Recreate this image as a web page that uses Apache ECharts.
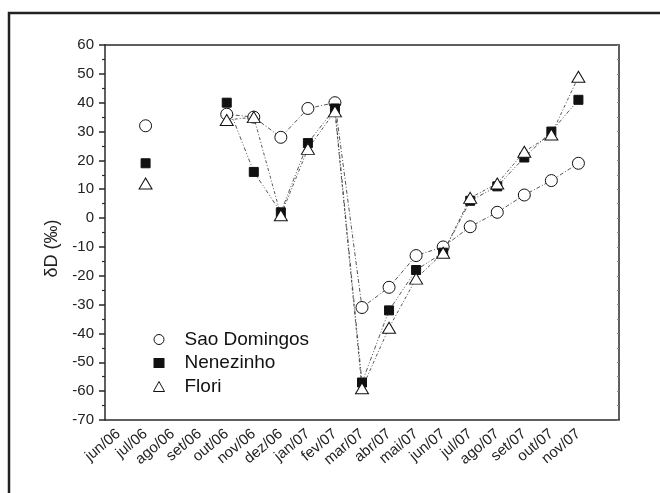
<!DOCTYPE html>
<html>
<head>
<meta charset="utf-8">
<script src="https://cdn.jsdelivr.net/npm/echarts@6/dist/echarts.min.js"></script>
<style>html,body{margin:0;padding:0;background:#fff}#c{width:660px;height:493px}</style>
</head>
<body>
<div id="c"></div>
<script>
const months = ['jun/06','jul/06','ago/06','set/06','out/06','nov/06','dez/06','jan/07','fev/07','mar/07','abr/07','mai/07','jun/07','jul/07','ago/07','set/07','out/07','nov/07',''];
const saoDomingos = [null,32,null,null,36,35,28,38,40,-31,-24,-13,-10,-3,2,8,13,19];
const nenezinho   = [null,19,null,null,40,16,2,26,38,-57,-32,-18,-12,6,11,21,30,41];
const flori       = [null,12,null,null,34,35,1,24,37,-59,-38,-21,-12,7,12,23,29,49];
const yTicks = {min:-70, max:60, step:10};

const chart = echarts.init(document.getElementById('c'), null, {renderer:'canvas'});
const font = '"Liberation Sans", Arial, sans-serif';
const axisCol = '#2a2a2a';
const lineCol = '#444';

function mkSeries(name, data, symbol, size, fill, dash){
  return {
    name, type:'line', data, symbol, symbolSize:size, connectNulls:false,
    showAllSymbol:true, z: 3,
    lineStyle:{color:lineCol, width:0.9, type:dash},
    itemStyle:{color:fill, borderColor:'#111', borderWidth:1},
    emphasis:{disabled:true}, animation:false
  };
}

chart.setOption({
  animation:false,
  backgroundColor:'#fff',
  graphic:[{type:'rect', shape:{x:9,y:13,width:720,height:600}, style:{fill:'none', stroke:'#222', lineWidth:2.5}, silent:true}],
  grid:{left:105, top:45, right:41, bottom:73},
  legend:{
    orient:'vertical', left:148, top:325, itemWidth:11, itemHeight:10, itemGap:4.5,
    textStyle:{fontFamily:font, fontSize:19, color:'#111', padding:[0,0,0,15]},
    data:[
      {name:'Sao Domingos', icon:'circle', itemStyle:{color:'#fff', borderColor:'#111', borderWidth:1}},
      {name:'Nenezinho', icon:'rect', itemStyle:{color:'#111', borderColor:'#111', borderWidth:0}},
      {name:'Flori', icon:'triangle', itemStyle:{color:'#fff', borderColor:'#111', borderWidth:1}}
    ],
    selectedMode:false
  },
  xAxis:[
    {type:'category', data:months, boundaryGap:true, position:'bottom',
     axisLine:{onZero:false, lineStyle:{color:axisCol, width:1.5}},
     axisTick:{alignWithLabel:true, length:6, lineStyle:{color:axisCol, width:1.5}},
     axisLabel:{rotate:40, interval:0, fontFamily:font, fontSize:15, color:'#222', margin:12},
     splitLine:{show:false}},
    {type:'category', data:months, boundaryGap:true, position:'bottom',
     axisLine:{show:false, onZero:false},
     axisTick:{alignWithLabel:false, interval:0, length:3, lineStyle:{color:axisCol, width:1.2}},
     axisLabel:{show:false}, splitLine:{show:false}},
    {type:'category', data:months, boundaryGap:true, position:'top',
     axisLine:{onZero:false, lineStyle:{color:axisCol, width:1.5}},
     axisTick:{alignWithLabel:true, inside:true, length:2, lineStyle:{color:'#888', width:1}},
     axisLabel:{show:false}, splitLine:{show:false}},
    {type:'category', data:months, boundaryGap:true, position:'top',
     axisLine:{show:false, onZero:false},
     axisTick:{alignWithLabel:false, interval:0, inside:true, length:2, lineStyle:{color:'#888', width:1}},
     axisLabel:{show:false}, splitLine:{show:false}}
  ],
  yAxis:[
    {type:'value', min:yTicks.min, max:yTicks.max, interval:yTicks.step, position:'left',
     name:'δD (‰)', nameLocation:'middle', nameGap:40,
     nameTextStyle:{fontFamily:font, fontSize:18, color:'#222', padding:[0,32,0,0]},
     axisLine:{show:true, onZero:false, lineStyle:{color:axisCol, width:1.5}},
     axisTick:{show:true, length:6, lineStyle:{color:axisCol, width:1.5}},
     minorTick:{show:true, splitNumber:2, length:3, lineStyle:{color:axisCol, width:1.2}},
     axisLabel:{fontFamily:font, fontSize:15, color:'#222', margin:11},
     splitLine:{show:false}},
    {type:'value', min:yTicks.min, max:yTicks.max, interval:yTicks.step, position:'right',
     axisLine:{show:true, onZero:false, lineStyle:{color:axisCol, width:1.5}},
     axisTick:{show:true, inside:true, length:2, lineStyle:{color:'#888', width:1}},
     minorTick:{show:true, splitNumber:2, length:2, lineStyle:{color:'#888', width:1}},
     axisLabel:{show:false}, splitLine:{show:false}}
  ],
  series:[
    mkSeries('Sao Domingos', saoDomingos, 'circle', 12, '#fff', [4,2,1,2]),
    mkSeries('Nenezinho', nenezinho, 'rect', 9, '#111', [4,2,1,2,1,2]),
    mkSeries('Flori', flori, 'triangle', [13,11], '#fff', [3,2,1,2])
  ]
});
</script>
</body>
</html>
